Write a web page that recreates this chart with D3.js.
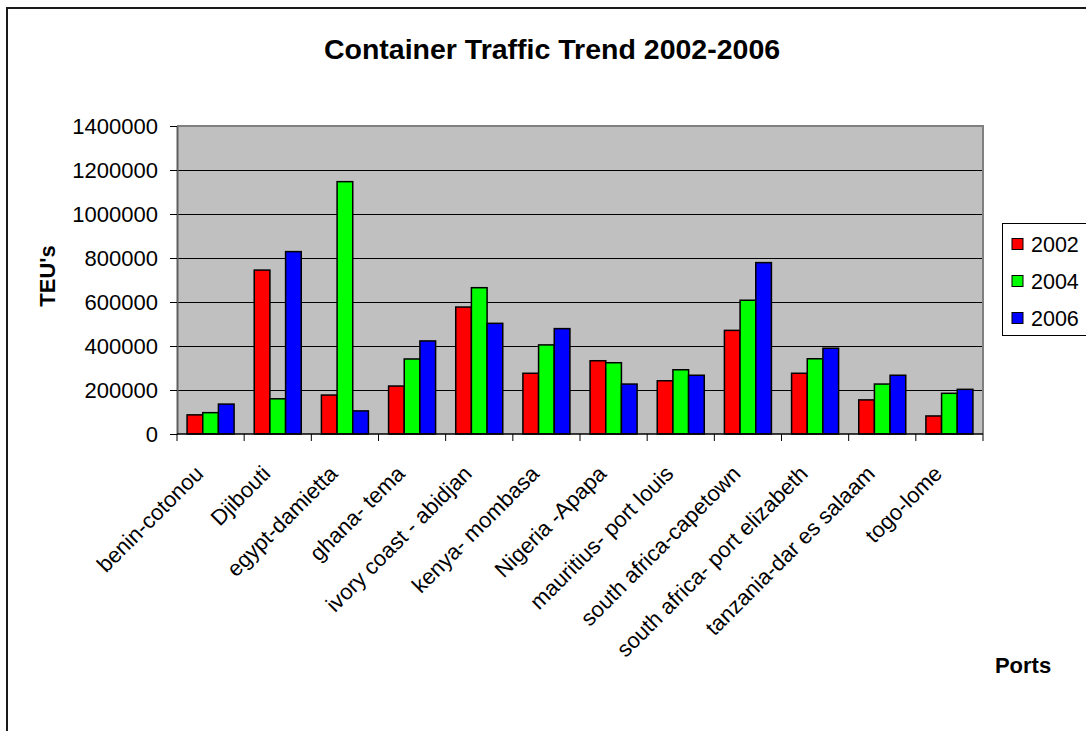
<!DOCTYPE html>
<html>
<head>
<meta charset="utf-8">
<script src="https://cdn.jsdelivr.net/npm/d3@7"></script>
<style>
  html, body { margin: 0; padding: 0; background: #fff; }
  svg { display: block; font-family: "Liberation Sans", Arial, sans-serif; }
</style>
</head>
<body>
<svg id="chart" width="1086" height="731"></svg>
<script>
const categories = ["benin-cotonou", "Djibouti", "egypt-damietta", "ghana- tema", "ivory coast - abidjan", "kenya- mombasa", "Nigeria -Apapa", "mauritius- port louis", "south africa-capetown", "south africa- port elizabeth", "tanzania-dar es salaam", "togo-lome"];
const seriesNames = ["2002", "2004", "2006"];
const values2002 = [87000, 745000, 177000, 218000, 577000, 276000, 333000, 242000, 471000, 276000, 155000, 82000];
const values2004 = [97000, 160000, 1147000, 341000, 665000, 405000, 324000, 292000, 608000, 342000, 227000, 185000];
const values2006 = [136000, 829000, 105000, 423000, 503000, 479000, 227000, 267000, 779000, 390000, 267000, 203000];
const seriesColors = ["#FF0000", "#00FF00", "#0000FF"];
const yTicks = [0, 200000, 400000, 600000, 800000, 1000000, 1200000, 1400000];

const series = [values2002, values2004, values2006];
const svg = d3.select("#chart");

// chart area border
svg.append("rect").attr("x", 7).attr("y", 8).attr("width", 1100).attr("height", 740)
  .attr("fill", "#fff").attr("stroke", "#1a1a1a").attr("stroke-width", 2);

const plot = { left: 177, top: 126, right: 983, bottom: 434 };

const x0 = d3.scaleBand().domain(categories).range([plot.left, plot.right]).paddingInner(0).paddingOuter(0);
// group occupies 70% of the category width
const groupW = x0.bandwidth() * 0.7;
const x1 = d3.scaleBand().domain(seriesNames)
  .range([(x0.bandwidth() - groupW) / 2, (x0.bandwidth() + groupW) / 2]).padding(0);
const y = d3.scaleLinear().domain([0, 1400000]).range([plot.bottom, plot.top]);

// plot background
svg.append("rect").attr("x", plot.left).attr("y", plot.top)
  .attr("width", plot.right - plot.left).attr("height", plot.bottom - plot.top)
  .attr("fill", "#C0C0C0");

// gridlines
svg.append("g").selectAll("line").data(yTicks.filter(d => d > 0 && d < 1400000)).join("line")
  .attr("x1", plot.left).attr("x2", plot.right)
  .attr("y1", d => Math.round(y(d)) + 0.5).attr("y2", d => Math.round(y(d)) + 0.5)
  .attr("stroke", "#000").attr("stroke-width", 1);

// plot border (top & right gray)
svg.append("path")
  .attr("d", `M${plot.left},${plot.top} H${plot.right} V${plot.bottom}`)
  .attr("fill", "none").attr("stroke", "#808080").attr("stroke-width", 2);

// bars
const groups = svg.append("g").selectAll("g").data(categories).join("g")
  .attr("transform", d => `translate(${x0(d)},0)`);
groups.selectAll("rect").data((d, i) => seriesNames.map((s, k) => ({ s, k, v: series[k][i] }))).join("rect")
  .attr("x", d => x1(d.s))
  .attr("y", d => y(d.v))
  .attr("width", x1.bandwidth())
  .attr("height", d => y(0) - y(d.v))
  .attr("fill", d => seriesColors[d.k])
  .attr("stroke", "#000").attr("stroke-width", 1.5);

// y axis
const yAxis = d3.axisLeft(y).tickValues(yTicks).tickSize(7).tickSizeOuter(0).tickPadding(12).tickFormat(d3.format("d"));
const gy = svg.append("g").attr("transform", `translate(${plot.left},0)`).call(yAxis);
gy.select(".domain").attr("stroke", "#606060").attr("stroke-width", 2);
gy.selectAll(".tick line").attr("stroke", "#000");
gy.selectAll(".tick text").attr("font-size", "22px").attr("fill", "#000")
  .attr("font-family", "Liberation Sans, Arial, sans-serif");

// x axis
const xTickPositions = d3.range(categories.length + 1).map(i => plot.left + i * x0.bandwidth());
const gx = svg.append("g");
gx.append("line").attr("x1", plot.left).attr("x2", plot.right)
  .attr("y1", plot.bottom).attr("y2", plot.bottom).attr("stroke", "#000").attr("stroke-width", 1.5);
gx.selectAll("line.tick").data(xTickPositions).join("line").attr("class", "tick")
  .attr("x1", d => d).attr("x2", d => d).attr("y1", plot.bottom).attr("y2", plot.bottom + 7)
  .attr("stroke", "#000").attr("stroke-width", 1);
gx.selectAll("text").data(categories).join("text")
  .attr("transform", d => `translate(${x0(d) + x0.bandwidth() / 2 - 6},${plot.bottom + 41}) rotate(-45)`)
  .attr("text-anchor", "end")
  .attr("font-size", "22px").attr("fill", "#000")
  .text(d => d);

// title
svg.append("text").attr("x", 552).attr("y", 59).attr("text-anchor", "middle")
  .attr("font-size", "28.5px").attr("font-weight", "bold").text("Container Traffic Trend 2002-2006");

// axis titles
svg.append("text").attr("transform", "translate(55,276) rotate(-90)").attr("text-anchor", "middle")
  .attr("font-size", "22px").attr("font-weight", "bold").text("TEU's");
svg.append("text").attr("x", 1023).attr("y", 673).attr("text-anchor", "middle")
  .attr("font-size", "22px").attr("font-weight", "bold").text("Ports");

// legend
const legend = svg.append("g");
legend.append("rect").attr("x", 1002.5).attr("y", 223.5).attr("width", 120).attr("height", 112)
  .attr("fill", "#fff").attr("stroke", "#000").attr("stroke-width", 1);
const legendRows = [244, 281, 318];
const li = legend.selectAll("g").data(seriesNames).join("g")
  .attr("transform", (d, i) => `translate(0,${legendRows[i]})`);
li.append("rect").attr("x", 1012).attr("y", -5.5).attr("width", 11).attr("height", 11)
  .attr("fill", (d, i) => seriesColors[i]).attr("stroke", "#000").attr("stroke-width", 1);
li.append("text").attr("x", 1031).attr("y", 7.5).attr("font-size", "21.5px").text(d => d);
</script>
</body>
</html>
